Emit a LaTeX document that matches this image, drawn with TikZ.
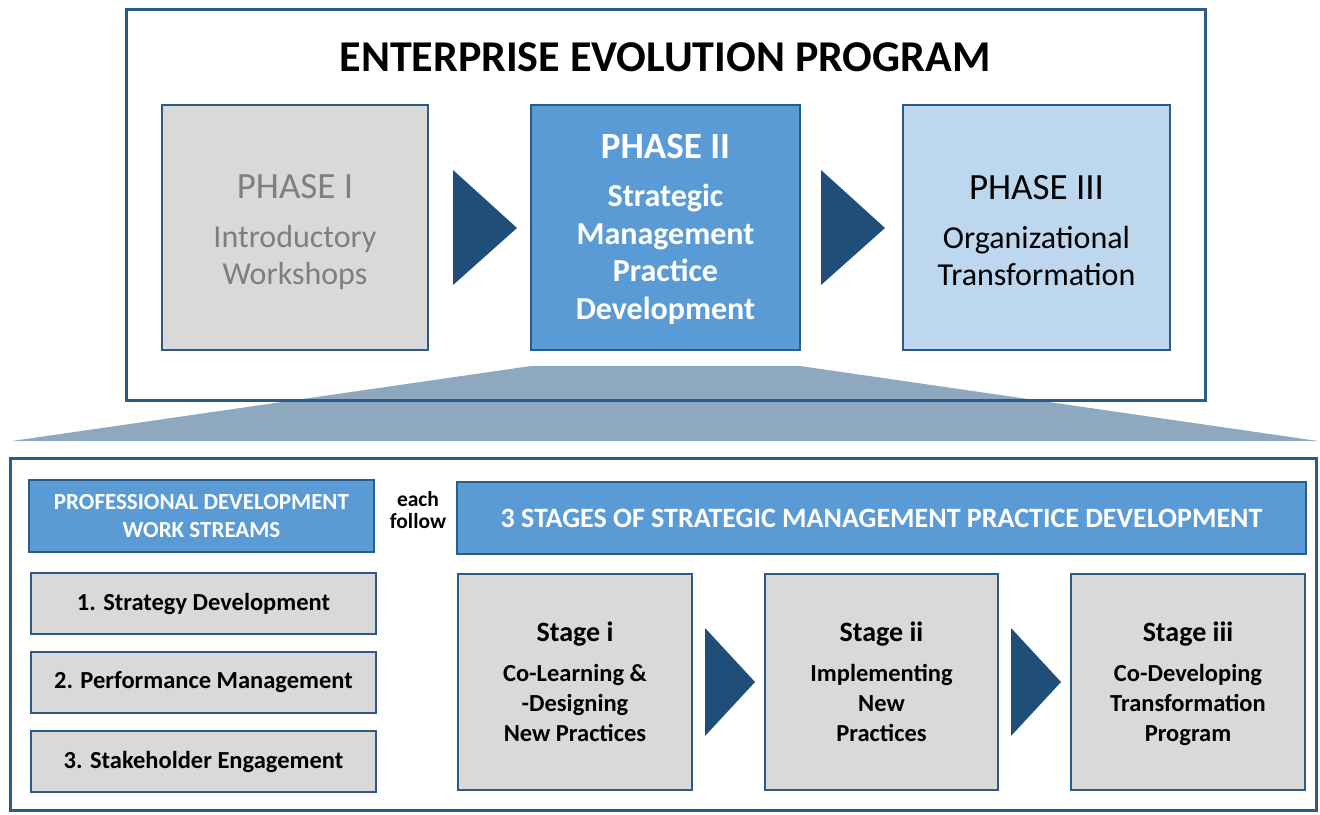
\documentclass[tikz,border=0pt]{standalone}
\usepackage{fontspec}
\setmainfont{Carlito}
\definecolor{bordc}{HTML}{2D5B88}
\definecolor{arrc}{HTML}{1F4E79}
\definecolor{midblue}{HTML}{5B9BD5}
\definecolor{lightblue}{HTML}{BDD7EE}
\definecolor{greyfill}{HTML}{D9D9D9}
\definecolor{greytext}{HTML}{7F7F7F}
\definecolor{trapc}{HTML}{8EA8C0}
\tikzset{
  frame/.style={draw=bordc, line width=3pt},
  box/.style={draw=bordc, line width=2.6pt, align=center, inner sep=0pt, anchor=center},
  greybox/.style={box, fill=greyfill},
  bluebox/.style={box, fill=midblue, text=white},
  chev/.style={fill=arrc},
  phasetext/.style={align=center, inner sep=0pt, font=\fontsize{32}{37}\selectfont},
  stagefont/.style={font=\fontsize{24.5}{30}\selectfont\bfseries, text depth=0pt},
}
\newcommand{\phasehead}[1]{{\fontsize{37}{40}\selectfont #1}}
\newcommand{\stagehead}[1]{{\fontsize{28}{30}\selectfont\bfseries #1}}
\begin{document}
\begin{tikzpicture}[x=1pt,y=-1pt]
\useasboundingbox (0,0) rectangle (1320,814);
% trapezoid (behind frame)
\fill[trapc] (531,366) -- (800,366) -- (1318,441) -- (12,441) -- cycle;
% top frame
\draw[frame, fill=none] (126,9) rectangle (1205,400);
\node[font=\fontsize{44}{48}\selectfont\bfseries] (title) at (665,57) {ENTERPRISE EVOLUTION PROGRAM};
% phases
\node[greybox, minimum width=266, minimum height=245] (p1) at (295,227.5) {};
\node[phasetext, text=greytext, yshift=-5pt] (p1t) at (p1.center)
  {\phasehead{PHASE I}\\[12pt]Introductory\\Workshops};
\node[bluebox, minimum width=269, minimum height=245] (p2) at (665.5,227.5) {};
\node[phasetext, text=white, font=\fontsize{32}{37.7}\selectfont\bfseries, yshift=-2pt] (p2t) at (p2.center)
  {\phasehead{PHASE II}\\[10pt]Strategic\\Management\\Practice\\Development};
\node[box, fill=lightblue, minimum width=267, minimum height=245] (p3) at (1036.5,227.5) {};
\node[phasetext, yshift=-3pt] (p3t) at (p3.center)
  {\phasehead{PHASE III}\\[12pt]Organizational\\Transformation};
% chevrons
\fill[chev] (453,170) -- (517,228) -- (453,285) -- cycle;
\fill[chev] (821,170) -- (885,228) -- (821,285) -- cycle;
% bottom frame
\draw[frame] (10,458) rectangle (1316,810);
\node[bluebox, font=\fontsize{23}{28}\selectfont\bfseries, minimum width=345, minimum height=72] (pd) at (201.5,516)
  {PROFESSIONAL DEVELOPMENT\\WORK STREAMS};
\node[align=center, font=\fontsize{21.5}{22}\selectfont\bfseries] (ef) at (418,510) {each\\follow};
\node[bluebox, font=\fontsize{28}{32}\selectfont\bfseries, minimum width=849, minimum height=72] (st) at (881.5,518)
  {3 STAGES OF STRATEGIC MANAGEMENT PRACTICE DEVELOPMENT};
% work streams
\tikzset{wsfont/.style={font=\fontsize{24.5}{28}\selectfont\bfseries}}
\node[greybox, wsfont, minimum width=345, minimum height=61] (w1) at (203.5,603.5) {1. Strategy Development};
\node[greybox, wsfont, minimum width=345, minimum height=61] (w2) at (203.5,682.5) {2. Performance Management};
\node[greybox, wsfont, minimum width=345, minimum height=61] (w3) at (203.5,761.5) {3. Stakeholder Engagement};
% stages
\node[greybox, stagefont, minimum width=234, minimum height=216] (s1) at (575,682)
  {\stagehead{Stage i}\\[10pt]Co-Learning \&\\-Designing\\New Practices};
\node[greybox, stagefont, minimum width=233, minimum height=216] (s2) at (881.5,682)
  {\stagehead{Stage ii}\\[10pt]Implementing\\New\\Practices};
\node[greybox, stagefont, minimum width=234, minimum height=216] (s3) at (1188,682)
  {\stagehead{Stage iii}\\[10pt]Co-Developing\\Transformation\\Program};
\fill[chev] (705,628) -- (755,682) -- (705,736) -- cycle;
\fill[chev] (1011,628) -- (1061,682) -- (1011,736) -- cycle;
\end{tikzpicture}
\end{document}
